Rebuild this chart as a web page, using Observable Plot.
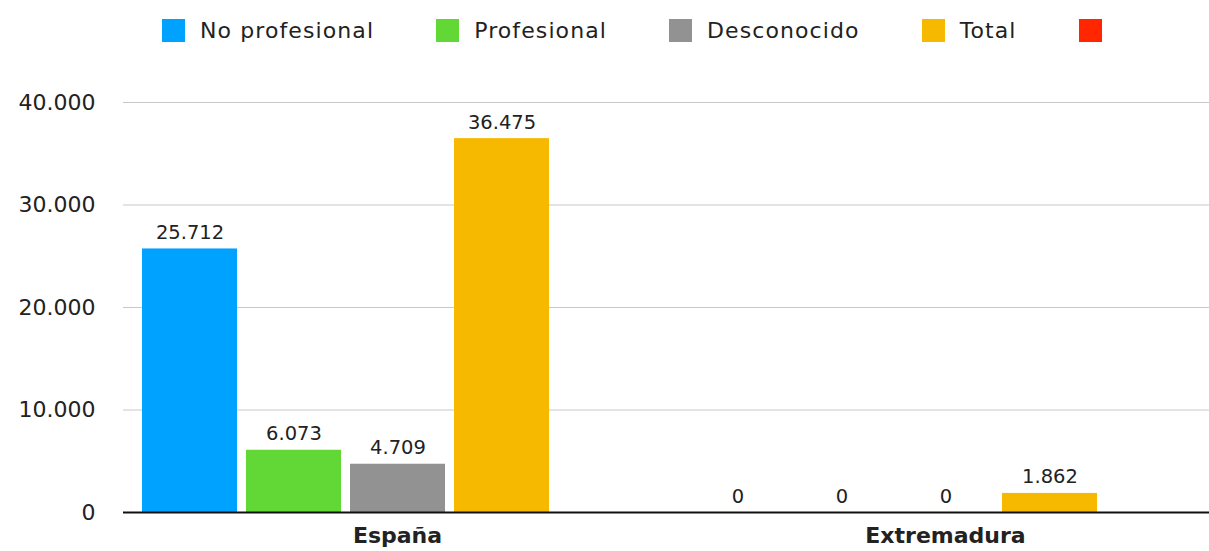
<!DOCTYPE html>
<html>
<head>
<meta charset="utf-8">
<script src="https://cdn.jsdelivr.net/npm/d3@7"></script>
<script src="https://cdn.jsdelivr.net/npm/@observablehq/plot@0.6"></script>
<style>
  html, body { margin: 0; padding: 0; background: #fff; }
  body { width: 1209px; height: 551px; overflow: hidden; font-family: "DejaVu Sans", sans-serif; }
  #legend { height: 60px; display: flex; align-items: center; padding-left: 162px; box-sizing: border-box; }
  .item { display: flex; align-items: center; margin-right: 62px; }
  .sw { width: 23px; height: 23px; margin-right: 15px; }
  .lab { font-size: 22px; letter-spacing: 1.1px; color: #222; }
</style>
</head>
<body>
<div id="legend"></div>
<div id="chart"></div>
<script>
const categories = ["España", "Extremadura"];
const series = ["No profesional", "Profesional", "Desconocido", "Total", ""];
const colors = ["#00A2FF", "#61D836", "#929292", "#F6B900", "#FF2600"];
const espana = [25712, 6073, 4709, 36475, null];
const extremadura = [0, 0, 0, 1862, null];
const yTicks = [0, 10000, 20000, 30000, 40000];

const valuesByCategory = [espana, extremadura];
const data = categories.flatMap((c, i) =>
  series.map((s, j) => ({country: c, series: s, value: valuesByCategory[i][j]}))
).filter(d => d.value != null);

const fmt = d3.formatLocale({decimal: ",", thousands: ".", grouping: [3], currency: ["", "€"]}).format(",d");

// legend
const legend = document.getElementById("legend");
series.forEach((s, i) => {
  const it = document.createElement("div");
  it.className = "item";
  const sw = document.createElement("div");
  sw.className = "sw";
  sw.style.background = colors[i];
  const lab = document.createElement("span");
  lab.className = "lab";
  lab.textContent = s;
  it.appendChild(sw);
  it.appendChild(lab);
  legend.appendChild(it);
});

const chart = Plot.plot({
  width: 1209,
  height: 491,
  marginTop: 42,
  marginBottom: 39,
  marginLeft: 123,
  marginRight: 0,
  style: {fontFamily: "DejaVu Sans, sans-serif", color: "#222", background: "#fff", overflow: "hidden"},
  fx: {domain: categories, range: [122.5, 1218.5], padding: 0, label: null},
  x: {domain: series, axis: null, paddingInner: 0.087, paddingOuter: 0.178},
  y: {domain: [0, 40000], label: null},
  color: {domain: series, range: colors},
  marks: [
    Plot.gridY(yTicks, {stroke: "#c8c8c8", strokeOpacity: 1, strokeWidth: 1}),
    Plot.axisY(yTicks, {tickSize: 0, tickPadding: 28, tickFormat: fmt, fontSize: 22, label: null, style: {letterSpacing: "1px"}}),
    Plot.barY(data, {fx: "country", x: "series", y: "value", fill: "series"}),
    Plot.text(data, {fx: "country", x: "series", y: "value", text: d => fmt(d.value), lineAnchor: "bottom", dy: -10, fontSize: 19.5, fill: "#222", style: {letterSpacing: "0.5px"}}),
    Plot.ruleY([0], {stroke: "#111", strokeWidth: 2}),
    Plot.axisFx({anchor: "bottom", tickSize: 0, tickPadding: 15, fontSize: 22, fontWeight: "bold", label: null})
  ]
});
document.getElementById("chart").appendChild(chart);
</script>
</body>
</html>
